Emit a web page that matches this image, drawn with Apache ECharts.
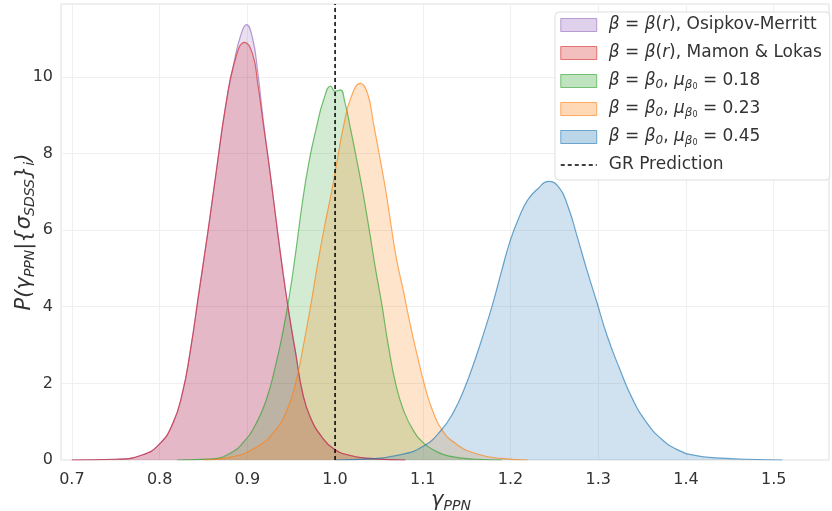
<!DOCTYPE html>
<html>
<head>
    <meta charset="utf-8">
    <title>gamma PPN posterior</title>
    <script src="https://cdn.jsdelivr.net/npm/echarts@6/dist/echarts.min.js"></script>
</head>
<body style="margin:0">
    <div id="chart" style="width: 832px; height: 511px;"></div>
    <script>
        // values: [gamma_ppn, density]
        var xTicks = [0.7, 0.8, 0.9, 1.0, 1.1, 1.2, 1.3, 1.4, 1.5];
        var yTicks = [0, 2, 4, 6, 8, 10];
        var grValue = 1.0;

        var osipkov = [[0.70,0],[0.75,0.02],[0.78,0.13],[0.80,0.42],[0.815,0.95],[0.826,1.75],[0.835,2.85],
            [0.845,4.4],[0.855,5.95],[0.865,7.6],[0.875,9.2],[0.885,10.4],[0.892,11.05],[0.899,11.36],
            [0.906,11.0],[0.912,10.1],[0.918,8.9],[0.925,7.66],[0.932,6.4],[0.940,5.0],[0.947,3.9],
            [0.955,2.8],[0.963,1.75],[0.972,1.1],[0.985,0.6],[0.998,0.3],[1.015,0.13],[1.04,0.04],[1.08,0]];

        var mamon = [[0.70,0],[0.75,0.02],[0.78,0.13],[0.80,0.42],[0.815,0.95],[0.826,1.75],[0.835,2.85],
            [0.845,4.4],[0.855,5.95],[0.865,7.6],[0.875,9.2],[0.885,10.35],[0.897,10.9],[0.906,10.6],
            [0.912,9.8],[0.918,8.8],[0.925,7.66],[0.932,6.4],[0.940,5.0],[0.947,3.9],[0.955,2.8],
            [0.963,1.75],[0.972,1.1],[0.985,0.6],[0.998,0.3],[1.015,0.13],[1.04,0.04],[1.08,0]];

        var beta018 = [[0.82,0],[0.86,0.03],[0.88,0.17],[0.895,0.45],[0.910,0.95],[0.922,1.6],[0.932,2.45],
            [0.941,3.4],[0.948,4.3],[0.955,5.4],[0.962,6.6],[0.970,7.75],[0.979,8.7],[0.987,9.4],
            [0.995,9.76],[1.000,9.62],[1.006,9.66],[1.011,9.35],[1.018,8.6],[1.025,7.8],[1.032,6.95],
            [1.039,6.0],[1.046,5.0],[1.053,4.1],[1.061,2.95],[1.069,2.0],[1.078,1.3],[1.089,0.78],
            [1.101,0.44],[1.114,0.24],[1.13,0.1],[1.16,0.02],[1.19,0]];

        var beta023 = [[0.85,0],[0.88,0.07],[0.91,0.33],[0.932,0.78],[0.946,1.35],[0.956,2.1],[0.964,3.0],
            [0.972,4.0],[0.980,5.1],[0.988,6.1],[0.996,7.0],[1.003,7.9],[1.010,8.75],[1.018,9.45],
            [1.029,9.83],[1.037,9.57],[1.044,8.75],[1.051,7.9],[1.058,7.0],[1.064,6.1],[1.070,5.25],
            [1.078,4.4],[1.086,3.5],[1.094,2.7],[1.102,1.95],[1.111,1.3],[1.122,0.78],[1.138,0.42],
            [1.16,0.17],[1.19,0.04],[1.22,0]];

        var beta045 = [[1.00,0],[1.04,0.03],[1.075,0.14],[1.100,0.35],[1.120,0.75],[1.135,1.25],[1.148,1.9],
            [1.160,2.65],[1.170,3.35],[1.180,4.1],[1.190,4.95],[1.200,5.75],[1.210,6.35],[1.220,6.8],
            [1.232,7.1],[1.243,7.27],[1.255,7.12],[1.265,6.65],[1.276,5.83],[1.287,4.96],[1.298,4.15],
            [1.310,3.25],[1.324,2.4],[1.340,1.55],[1.356,0.95],[1.372,0.55],[1.39,0.27],[1.41,0.12],
            [1.44,0.05],[1.47,0.02],[1.51,0]];

        var names = ['β = β(r), Osipkov-Merritt', 'β = β(r), Mamon & Lokas',
            'β = β0, μ = 0.18', 'β = β0, μ = 0.23', 'β = β0, μ = 0.45', 'GR Prediction'];
        var richNames = [
            '{i|β} = {i|β}({i|r}), Osipkov-Merritt',
            '{i|β} = {i|β}({i|r}), Mamon & Lokas',
            '{i|β} = {i|β}{s|0}, {i|μ}{s|β}{ss|0} = 0.18',
            '{i|β} = {i|β}{s|0}, {i|μ}{s|β}{ss|0} = 0.23',
            '{i|β} = {i|β}{s|0}, {i|μ}{s|β}{ss|0} = 0.45',
            'GR Prediction'
        ];
        var colors = ['148,103,189', '214,39,40', '44,160,44', '255,127,14', '31,119,180'];
        var curves = [osipkov, mamon, beta018, beta023, beta045];

        var chart = echarts.init(document.querySelector("#chart"));

        var series = curves.map(function (d, i) {
            return {
                name: names[i],
                type: 'line',
                data: d,
                smooth: 0.5,
                symbol: 'none',
                z: 2,
                lineStyle: { color: 'rgba(' + colors[i] + ',0.65)', width: 1.2 },
                itemStyle: { color: 'rgba(' + colors[i] + ',0.3)' },
                areaStyle: { color: 'rgba(' + colors[i] + ',0.3)', origin: 'start' }
            };
        });
        series.push({
            name: names[5],
            type: 'line',
            data: [[grValue, 0], [grValue, 11.9]],
            symbol: 'none',
            z: 5,
            lineStyle: { color: '#000', width: 1.5, type: [4, 3] },
            itemStyle: { color: '#000' }
        });
        // faint vertical grid lines at the x ticks, kept under the filled areas
        series.push({
            type: 'line',
            data: [],
            z: 0,
            markLine: {
                z: 0,
                silent: true, symbol: 'none', label: { show: false },
                lineStyle: { color: '#efefef', type: 'solid', width: 1 },
                data: xTicks.map(function (t) { return { xAxis: t }; })
            }
        });

        var legendData = names.map(function (n, i) {
            if (i === 5) {
                return {
                    name: n,
                    itemStyle: { color: 'rgba(0,0,0,0)', borderWidth: 0 },
                    lineStyle: { color: '#000', width: 1.5, type: [4, 3] }
                };
            }
            return {
                name: n,
                icon: 'rect',
                itemStyle: { color: 'rgba(' + colors[i] + ',0.3)', borderColor: 'rgba(' + colors[i] + ',0.6)', borderWidth: 1 }
            };
        });

        var sub = { fontFamily: 'DejaVu Sans', fontStyle: 'italic', color: '#333', verticalAlign: 'bottom' };
        var option = {
            animation: false,
            grid: { left: 61, right: 3, top: 4, bottom: 51, show: true, borderColor: '#dcdcdc', borderWidth: 1,
                outerBoundsMode: 'none', containLabel: false },
            legend: {
                orient: 'vertical',
                left: 555,
                top: 12,
                padding: [3, 8, 5, 5],
                itemWidth: 36,
                itemHeight: 13,
                itemGap: 8,
                backgroundColor: '#fff',
                borderColor: '#dddddd',
                borderWidth: 1,
                borderRadius: 4,
                data: legendData,
                formatter: function (name) { return richNames[names.indexOf(name)]; },
                textStyle: {
                    fontFamily: 'DejaVu Sans', fontSize: 17, color: '#333', lineHeight: 20, padding: [0, 0, 0, 7],
                    rich: {
                        i: { fontFamily: 'DejaVu Sans', fontStyle: 'italic', fontSize: 17, color: '#333', lineHeight: 20 },
                        s: Object.assign({ fontSize: 12, lineHeight: 12 }, sub),
                        ss: { fontFamily: 'DejaVu Sans', fontSize: 8, color: '#333', lineHeight: 8, verticalAlign: 'bottom' }
                    }
                }
            },
            xAxis: {
                type: 'value',
                min: 0.6876,
                max: 1.563,
                name: '{i|γ}{s|PPN}',
                nameLocation: 'middle',
                nameGap: 29,
                nameMoveOverlap: false,
                nameTextStyle: {
                    padding: [0, 0, 0, 12],
                    rich: {
                        i: { fontFamily: 'DejaVu Sans', fontStyle: 'italic', fontSize: 21, color: '#333', lineHeight: 24 },
                        s: Object.assign({ fontSize: 14, lineHeight: 15 }, sub)
                    }
                },
                axisLine: { show: false },
                axisTick: { show: false, customValues: xTicks },
                axisLabel: {
                    customValues: xTicks,
                    formatter: function (v) { return v.toFixed(1); },
                    fontFamily: 'DejaVu Sans', fontSize: 16, color: '#333', margin: 12
                },
                splitLine: { show: false }
            },
            yAxis: {
                type: 'value',
                min: 0,
                max: 11.9,
                interval: 2,
                name: '{i|P}(γ{s|PPN}|{σ{s|SDSS}}{s|i})',
                nameLocation: 'middle',
                nameRotate: 90,
                nameGap: 24,
                nameMoveOverlap: false,
                nameTextStyle: {
                    rich: {
                        i: { fontFamily: 'DejaVu Sans', fontStyle: 'italic', fontSize: 21, color: '#333', lineHeight: 24 },
                        s: Object.assign({ fontSize: 14, lineHeight: 15 }, sub)
                    },
                    fontFamily: 'DejaVu Sans', fontStyle: 'italic', fontSize: 21, color: '#333'
                },
                axisLine: { show: false },
                axisTick: { show: false },
                axisLabel: {
                    formatter: function (v) { return yTicks.indexOf(v) >= 0 ? String(v) : ''; },
                    fontFamily: 'DejaVu Sans', fontSize: 16, color: '#333', margin: 8
                },
                splitLine: { show: true, lineStyle: { color: '#efefef' } }
            },
            series: series
        };

        chart.setOption(option);
    </script>
</body>
</html>
